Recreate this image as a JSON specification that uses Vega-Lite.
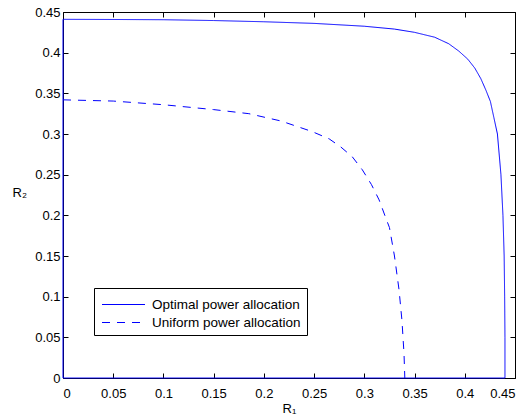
{
  "$schema": "https://vega.github.io/schema/vega-lite/v6.json",
  "width": 452,
  "height": 366,
  "autosize": "none",
  "padding": {"left": 63, "top": 12, "right": 15, "bottom": 37},
  "background": "white",
  "config": {
    "font": "Liberation Sans",
    "view": {"stroke": null},
    "axis": {
      "domainColor": "black",
      "domainWidth": 1,
      "tickColor": "black",
      "tickSize": -5,
      "tickWidth": 1,
      "grid": false,
      "labelColor": "black",
      "labelFontSize": 13,
      "labelFont": "Liberation Sans",
      "titleFont": "Liberation Sans",
      "titleFontWeight": "normal",
      "titleFontSize": 13,
      "titleColor": "black"
    }
  },
  "data": {
    "values": [
      {"s": "Optimal power allocation", "i": 0, "r1": 0, "r2": 0},
      {"s": "Optimal power allocation", "i": 1, "r1": 0, "r2": 0.441},
      {"s": "Optimal power allocation", "i": 2, "r1": 0.05, "r2": 0.4408},
      {"s": "Optimal power allocation", "i": 3, "r1": 0.1, "r2": 0.4405},
      {"s": "Optimal power allocation", "i": 4, "r1": 0.15, "r2": 0.4395},
      {"s": "Optimal power allocation", "i": 5, "r1": 0.2, "r2": 0.438},
      {"s": "Optimal power allocation", "i": 6, "r1": 0.25, "r2": 0.436},
      {"s": "Optimal power allocation", "i": 7, "r1": 0.3, "r2": 0.4325},
      {"s": "Optimal power allocation", "i": 8, "r1": 0.33, "r2": 0.429},
      {"s": "Optimal power allocation", "i": 9, "r1": 0.35, "r2": 0.425},
      {"s": "Optimal power allocation", "i": 10, "r1": 0.37, "r2": 0.419},
      {"s": "Optimal power allocation", "i": 11, "r1": 0.384, "r2": 0.411},
      {"s": "Optimal power allocation", "i": 12, "r1": 0.394, "r2": 0.402},
      {"s": "Optimal power allocation", "i": 13, "r1": 0.403, "r2": 0.392},
      {"s": "Optimal power allocation", "i": 14, "r1": 0.41, "r2": 0.381},
      {"s": "Optimal power allocation", "i": 15, "r1": 0.416, "r2": 0.368},
      {"s": "Optimal power allocation", "i": 16, "r1": 0.421, "r2": 0.354},
      {"s": "Optimal power allocation", "i": 17, "r1": 0.4255, "r2": 0.34},
      {"s": "Optimal power allocation", "i": 18, "r1": 0.429, "r2": 0.32},
      {"s": "Optimal power allocation", "i": 19, "r1": 0.4325, "r2": 0.3},
      {"s": "Optimal power allocation", "i": 20, "r1": 0.436, "r2": 0.25},
      {"s": "Optimal power allocation", "i": 21, "r1": 0.438, "r2": 0.2},
      {"s": "Optimal power allocation", "i": 22, "r1": 0.4392, "r2": 0.15},
      {"s": "Optimal power allocation", "i": 23, "r1": 0.4397, "r2": 0.1},
      {"s": "Optimal power allocation", "i": 24, "r1": 0.44, "r2": 0.05},
      {"s": "Optimal power allocation", "i": 25, "r1": 0.44, "r2": 0},
      {"s": "Optimal power allocation", "i": 26, "r1": 0, "r2": 0},
      {"s": "Uniform power allocation", "i": 0, "r1": 0, "r2": 0.342},
      {"s": "Uniform power allocation", "i": 1, "r1": 0.05, "r2": 0.3405},
      {"s": "Uniform power allocation", "i": 2, "r1": 0.1, "r2": 0.336},
      {"s": "Uniform power allocation", "i": 3, "r1": 0.15, "r2": 0.33},
      {"s": "Uniform power allocation", "i": 4, "r1": 0.185, "r2": 0.325},
      {"s": "Uniform power allocation", "i": 5, "r1": 0.217, "r2": 0.316},
      {"s": "Uniform power allocation", "i": 6, "r1": 0.248, "r2": 0.303},
      {"s": "Uniform power allocation", "i": 7, "r1": 0.265, "r2": 0.294},
      {"s": "Uniform power allocation", "i": 8, "r1": 0.2766, "r2": 0.284},
      {"s": "Uniform power allocation", "i": 9, "r1": 0.288, "r2": 0.272},
      {"s": "Uniform power allocation", "i": 10, "r1": 0.298, "r2": 0.256},
      {"s": "Uniform power allocation", "i": 11, "r1": 0.307, "r2": 0.238},
      {"s": "Uniform power allocation", "i": 12, "r1": 0.3147, "r2": 0.219},
      {"s": "Uniform power allocation", "i": 13, "r1": 0.321, "r2": 0.198},
      {"s": "Uniform power allocation", "i": 14, "r1": 0.325, "r2": 0.185},
      {"s": "Uniform power allocation", "i": 15, "r1": 0.33, "r2": 0.15},
      {"s": "Uniform power allocation", "i": 16, "r1": 0.3346, "r2": 0.108},
      {"s": "Uniform power allocation", "i": 17, "r1": 0.3375, "r2": 0.07},
      {"s": "Uniform power allocation", "i": 18, "r1": 0.3395, "r2": 0.03},
      {"s": "Uniform power allocation", "i": 19, "r1": 0.3403, "r2": 0}
    ]
  },
  "layer": [
    {
      "mark": {"type": "line", "color": "#0000ff", "strokeWidth": 1, "clip": false},
      "encoding": {
        "x": {
          "field": "r1", "type": "quantitative",
          "scale": {"domain": [0, 0.45], "nice": false, "zero": false},
          "axis": {
            "orient": "bottom",
            "values": [0, 0.05, 0.1, 0.15, 0.2, 0.25, 0.3, 0.35, 0.4, 0.45],
            "format": ".2~f",
            "labelPadding": 14,
            "title": "R₁",
            "titleBaseline": "alphabetic",
            "titleY": 34
          }
        },
        "y": {
          "field": "r2", "type": "quantitative",
          "scale": {"domain": [0, 0.45], "nice": false, "zero": false},
          "axis": {
            "orient": "left",
            "values": [0, 0.05, 0.1, 0.15, 0.2, 0.25, 0.3, 0.35, 0.4, 0.45],
            "format": ".2~f",
            "labelPadding": 8,
            "title": "R₂",
            "titleAngle": 0,
            "titleAlign": "left",
            "titleBaseline": "middle",
            "titleX": -51,
            "titleY": 180
          }
        },
        "order": {"field": "i", "type": "quantitative"},
        "strokeDash": {
          "field": "s", "type": "nominal",
          "scale": {
            "domain": ["Optimal power allocation", "Uniform power allocation"],
            "range": [[1, 0], [8, 7]]
          },
          "legend": {
            "orient": "none",
            "legendX": 31,
            "legendY": 276,
            "title": null,
            "fillColor": "white",
            "strokeColor": "black",
            "padding": 6,
            "symbolType": "M-2.15,0H2.15",
            "symbolSize": 400,
            "symbolOffset": 13,
            "symbolStrokeWidth": 1,
            "symbolStrokeColor": "#0000ff",
            "labelFontSize": 13.5,
            "labelColor": "black",
            "labelFont": "Liberation Sans",
            "labelOffset": 18,
            "rowPadding": 1
          }
        }
      }
    },
    {
      "mark": {"type": "line", "opacity": 0, "clip": false},
      "encoding": {
        "x": {
          "field": "r1", "type": "quantitative",
          "scale": {"domain": [0, 0.45], "nice": false, "zero": false},
          "axis": {
            "orient": "top",
            "values": [0, 0.05, 0.1, 0.15, 0.2, 0.25, 0.3, 0.35, 0.4, 0.45],
            "labels": false,
            "title": null
          }
        },
        "y": {
          "field": "r2", "type": "quantitative",
          "scale": {"domain": [0, 0.45], "nice": false, "zero": false},
          "axis": {
            "orient": "right",
            "values": [0, 0.05, 0.1, 0.15, 0.2, 0.25, 0.3, 0.35, 0.4, 0.45],
            "labels": false,
            "title": null
          }
        },
        "order": {"field": "i", "type": "quantitative"},
        "detail": {"field": "s", "type": "nominal"}
      }
    }
  ],
  "resolve": {"axis": {"x": "independent", "y": "independent"}}
}
